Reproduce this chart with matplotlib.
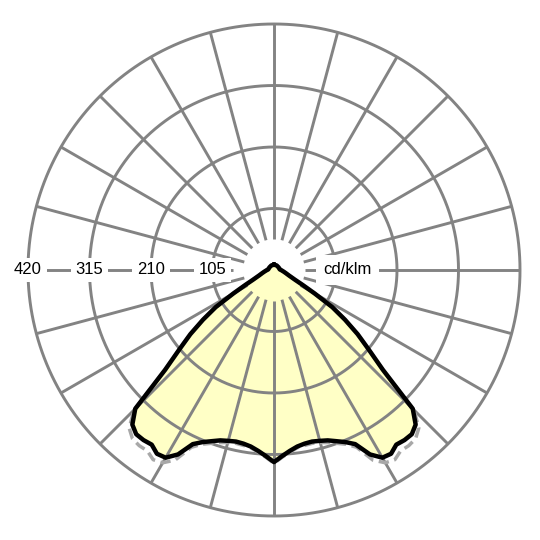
import numpy as np
import matplotlib
matplotlib.use("Agg")
import matplotlib.pyplot as plt

# gamma angle from nadir (deg) and intensity in cd/klm
gamma = [0, 2.5, 5, 7.5, 10, 12.5, 15, 17.5, 20, 22.5, 25, 27.5, 30, 32.5, 35,
         37.5, 40, 42.5, 45, 47.5, 50, 52.5, 55, 57.5, 60, 62.5, 65, 70, 75,
         80, 85, 90, 95, 120, 150, 180]
# C0-C180 plane (solid)
c0_c180 = [328, 318, 310, 304, 301, 300, 302, 305, 311, 318, 328, 355, 370,
           372, 364, 366, 366, 358, 335, 252, 211, 180, 148, 118, 80, 55, 40,
           27, 21, 17, 14, 12, 10, 9, 9, 9]
# C90-C270 plane (dashed)
c90_c270 = [330, 320, 312, 306, 304, 303, 305, 309, 315, 322, 334, 366, 380,
            384, 377, 378, 376, 366, 338, 252, 211, 180, 148, 118, 80, 55, 40,
            27, 21, 17, 14, 12, 10, 9, 9, 9]

rings = [105, 210, 315, 420]
ring_labels = ['105', '210', '315', '420']
unit = 'cd/klm'

grid_col = '#838383'
fill_col = '#ffffc6'


def mirror(g, v):
    g = np.radians(g)
    th = np.concatenate([-g[::-1], g[1:]])
    r = np.concatenate([np.array(v)[::-1], np.array(v)[1:]])
    return th, r


# centre at (274, 270) px, 420 cd/klm -> 246 px
rmax = 430
rad_px = 246 * rmax / 420
fig = plt.figure(figsize=(5.4, 5.4), dpi=100)
ax = fig.add_axes([(274 - rad_px) / 540, (270 - rad_px) / 540,
                   2 * rad_px / 540, 2 * rad_px / 540], projection='polar')
ax.set_theta_zero_location('S')
ax.set_ylim(0, rmax)
ax.axis('off')

th1, r1 = mirror(gamma, c0_c180)
th2, r2 = mirror(gamma, c90_c270)

ax.fill(th1, r1, color=fill_col, zorder=1, lw=0)

# grid
t = np.linspace(0, 2 * np.pi, 721)
for r in rings:
    ax.plot(t, np.full_like(t, r), color=grid_col, lw=2.1, zorder=2,
            solid_capstyle='butt')
for a in range(0, 360, 15):
    r0 = 70 if a == 270 else 52.5
    ax.plot([np.radians(a)] * 2, [r0, 420], color=grid_col, lw=2.1, zorder=2,
            solid_capstyle='butt')

ax.plot(th2, r2, color='#a8a8a8', lw=2.5, ls=(0, (3, 1.6)), zorder=3)
ax.plot(th1, r1, color='black', lw=3.2, zorder=4, solid_joinstyle='round')

box = dict(facecolor='white', edgecolor='none', boxstyle='square,pad=0.28')
for r, lab in zip(rings, ring_labels):
    ax.text(np.radians(270), r, lab, ha='center', va='center', fontsize=12,
            family='Liberation Sans', bbox=box, zorder=5)
ax.text(np.radians(90), 125, unit, ha='center', va='center', fontsize=12,
        family='Liberation Sans',
        bbox=dict(facecolor='white', edgecolor='none', boxstyle='square,pad=0.45'),
        zorder=5)

fig.savefig('out.png', dpi=100, facecolor='white')
